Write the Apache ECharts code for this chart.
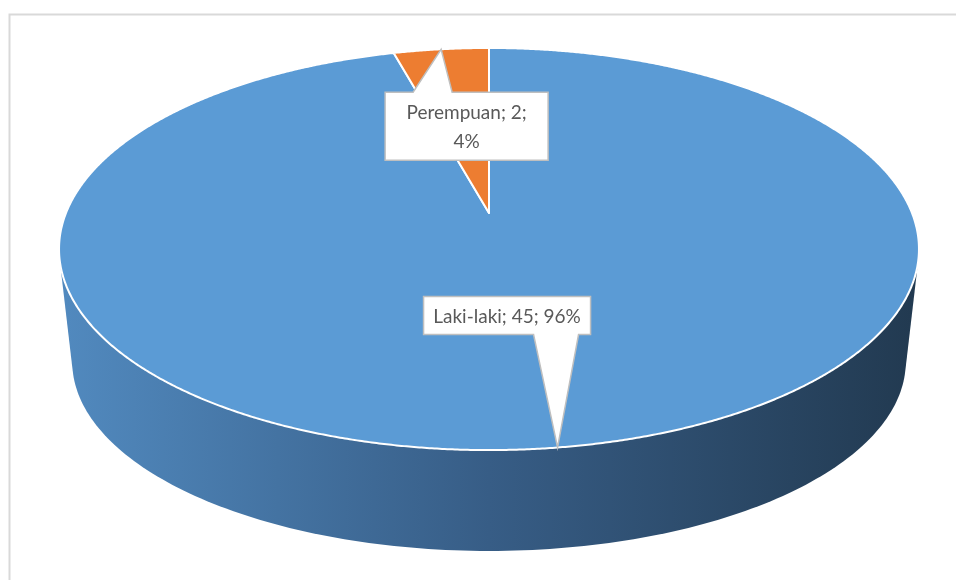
<!DOCTYPE html>
<html>
<head>
<meta charset="utf-8">
<script src="https://cdn.jsdelivr.net/npm/echarts@6/dist/echarts.min.js"></script>
<style>
  html, body { margin: 0; padding: 0; background: #fff; }
  #main { width: 956px; height: 580px; }
</style>
</head>
<body>
<div id="main"></div>
<script>
var names = ['Laki-laki', 'Perempuan'];
var values = [45, 2];
var colors = ['#5b9bd5', '#ed7d31'];

var total = values.reduce(function (s, v) { return s + v; }, 0);
var starts = [];
var acc = 0;
values.forEach(function (v) { starts.push(acc / total * Math.PI * 2); acc += v; });

// 3d pie geometry (top face + bottom face, simple perspective)
var cx = 489, persp = 5.58;
var topFace = { a: 423, b: 194.6, cy: 213 };
var botFace = { a: 410, b: 183, cy: 328 };

// label boxes, placed relative to the slice's rim point
var labelLayout = [
  { dx: -134, dy: -151, w: 167, h: 38, side: 'bottom', p0: 110, p1: 155, wrap: false },
  { dx: -56, dy: 43, w: 163, h: 68, side: 'top', p0: 28, p1: 67, wrap: true }
];

function proj(phi, f) {
  var u = Math.sin(phi), v = -Math.cos(phi);
  var w = persp / (persp - v);
  return [cx + f.a * u * w, f.cy + f.b * v * w];
}

function hull(pts) {
  pts = pts.slice().sort(function (p, q) { return p[0] - q[0] || p[1] - q[1]; });
  function cross(o, a, b) { return (a[0] - o[0]) * (b[1] - o[1]) - (a[1] - o[1]) * (b[0] - o[0]); }
  var lower = [], upper = [];
  pts.forEach(function (p) {
    while (lower.length >= 2 && cross(lower[lower.length - 2], lower[lower.length - 1], p) <= 0) lower.pop();
    lower.push(p);
  });
  for (var i = pts.length - 1; i >= 0; i--) {
    var p = pts[i];
    while (upper.length >= 2 && cross(upper[upper.length - 2], upper[upper.length - 1], p) <= 0) upper.pop();
    upper.push(p);
  }
  upper.pop(); lower.pop();
  return lower.concat(upper);
}

var chart = echarts.init(document.getElementById('main'));

var option = {
  animation: false,
  backgroundColor: '#fff',
  graphic: [{
    type: 'rect',
    silent: true,
    shape: { x: 9.5, y: 14.5, width: 1000, height: 1000 },
    style: { fill: 'none', stroke: '#d9d9d9', lineWidth: 2 }
  }],
  series: [{
    // side wall
    type: 'custom',
    coordinateSystem: 'none',
    z: 1,
    data: [total],
    renderItem: function (params, api) {
      var pts = [];
      for (var k = 0; k < 360; k++) {
        var phi = k / 180 * Math.PI;
        pts.push(proj(phi, topFace));
        pts.push(proj(phi, botFace));
      }
      return {
        type: 'polygon',
        shape: { points: hull(pts) },
        style: {
          fill: new echarts.graphic.LinearGradient(cx - topFace.a, 0, cx + topFace.a, 0, [
            { offset: 0, color: '#5189be' },
            { offset: 0.5, color: '#375d86' },
            { offset: 1, color: '#223a51' }
          ], true)
        }
      };
    }
  }, {
    // top face slices
    type: 'custom',
    coordinateSystem: 'none',
    z: 2,
    data: values,
    renderItem: function (params, api) {
      var i = params.dataIndex;
      var a0 = starts[i];
      var a1 = a0 + api.value(0) / total * Math.PI * 2;
      var n = Math.max(4, Math.ceil((a1 - a0) / 0.005));
      var pts = [[cx, topFace.cy]];
      for (var k = 0; k <= n; k++) pts.push(proj(a0 + (a1 - a0) * k / n, topFace));
      return {
        type: 'polygon',
        shape: { points: pts },
        style: { fill: colors[i], stroke: '#fff', lineWidth: 2, lineJoin: 'round' }
      };
    }
  }, {
    // callout labels
    type: 'custom',
    coordinateSystem: 'none',
    z: 3,
    data: values,
    renderItem: function (params, api) {
      var i = params.dataIndex;
      var v = api.value(0);
      var mid = starts[i] + v / total * Math.PI;
      var tip = proj(mid, topFace);
      var L = labelLayout[i];
      var x0 = tip[0] + L.dx, y0 = tip[1] + L.dy, x1 = x0 + L.w, y1 = y0 + L.h;
      var pts;
      if (L.side === 'bottom') {
        pts = [[x0, y0], [x1, y0], [x1, y1], [x0 + L.p1, y1], tip, [x0 + L.p0, y1], [x0, y1]];
      } else {
        pts = [[x0, y0], [x0 + L.p0, y0], tip, [x0 + L.p1, y0], [x1, y0], [x1, y1], [x0, y1]];
      }
      var pct = Math.round(v / total * 100);
      var txt = names[i] + '; ' + v + ';' + (L.wrap ? '\n' : ' ') + pct + '%';
      return {
        type: 'group',
        children: [{
          type: 'polygon',
          shape: { points: pts },
          style: { fill: '#fff', stroke: '#bfbfbf', lineWidth: 1.5 }
        }, {
          type: 'text',
          x: (x0 + x1) / 2,
          y: (y0 + y1) / 2 + 1,
          style: {
            text: txt,
            font: '19px Lato',
            fill: '#595959',
            align: 'center',
            verticalAlign: 'middle',
            lineHeight: 29
          }
        }]
      };
    }
  }]
};

chart.setOption(option);
</script>
</body>
</html>
